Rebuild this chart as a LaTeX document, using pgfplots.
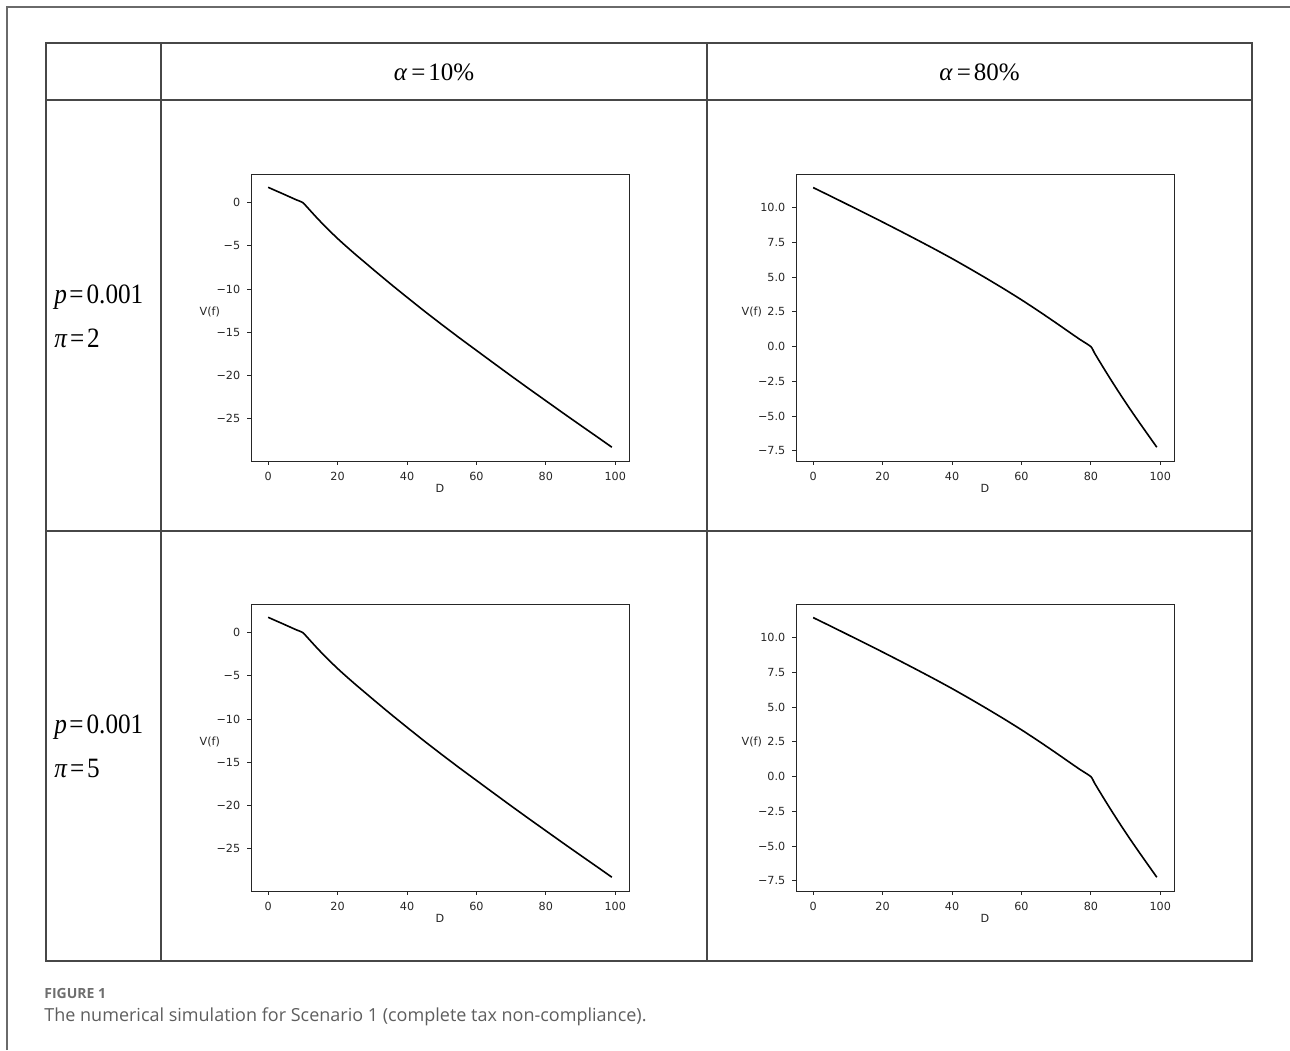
\documentclass[border=0pt]{standalone}
\usepackage{fontspec}
\usepackage{pgfplots}
\pgfplotsset{compat=1.18}
\newfontfamily\dejavu{DejaVu Sans}
\newfontfamily\tnr{Liberation Serif}
\newfontfamily\tnrc{Liberation Serif}[FakeStretch=0.9]
\newfontfamily\osans{Open Sans}
\definecolor{tline}{HTML}{474747}
\definecolor{frameg}{HTML}{6A6A6A}
\definecolor{capgray}{HTML}{6E6E6E}
\definecolor{captxt}{HTML}{5E5E5E}

\pgfplotstableread{
D V
0 1.78
2 1.42
4 1.07
6 0.71
8 0.35
10 0.0
12 -0.86
14 -1.74
16 -2.58
18 -3.38
20 -4.15
22 -4.88
25 -5.94
28 -6.96
31 -7.98
35 -9.32
40 -10.95
45 -12.55
50 -14.10
55 -15.62
60 -17.10
65 -18.58
70 -20.05
75 -21.50
80 -22.93
85 -24.36
90 -25.77
95 -27.17
99 -28.30
}\lowalpha

\pgfplotstableread{
D V
0 11.45
5 10.84
10 10.22
15 9.60
20 8.97
25 8.33
30 7.68
35 7.02
40 6.34
45 5.63
50 4.90
55 4.15
60 3.37
65 2.55
70 1.70
75 0.83
77 0.49
80 0.0
81 -0.44
82 -0.86
84 -1.68
86 -2.48
88 -3.26
90 -4.02
92 -4.76
94 -5.48
96 -6.19
99 -7.25
}\highalpha

\pgfplotsset{
  panel/.style={
    scale only axis, width=189pt, height=143.5pt, anchor=south west,
    xmin=-4.95, xmax=103.95,
    axis line style={line width=0.42pt, color=black!85},
    tick style={line width=0.42pt, color=black!85},
    tick align=outside, major tick length=1.85pt,
    xtick pos=bottom, ytick pos=left,
    xtick={0,20,40,60,80,100},
    xticklabels={0,20,40,60,80,100},
    tick label style={font=\dejavu\fontsize{5.6}{6.5}\selectfont, text=black!85},
    label style={font=\dejavu\fontsize{5.6}{6.5}\selectfont, text=black!85},
    /pgf/number format/assume math mode=true,
    xlabel={D}, ylabel={V(f)},
    xlabel style={at={(rel axis cs:0.5,0)}, anchor=center, yshift=-13.5pt},
    ylabel style={rotate=-90, anchor=east, at={(rel axis cs:0,0.52)}},
  },
  lowp/.style={panel, ymin=-29.9, ymax=3.32,
    ytick={-25,-20,-15,-10,-5,0},
    yticklabels={−25,−20,−15,−10,−5,0},
    ylabel style={xshift=-12pt}},
  highp/.style={panel, ymin=-8.24, ymax=12.43,
    ytick={-7.5,-5,-2.5,0,2.5,5,7.5,10},
    yticklabels={−7.5,−5.0,−2.5,0.0,2.5,5.0,7.5,10.0},
    ylabel style={xshift=-13.5pt}},
}

\begin{document}
\begin{tikzpicture}
\begin{scope}[x=0.5pt,y=-0.5pt]
\useasboundingbox (0,0) rectangle (1290,1050);
% outer frame
\draw[frameg, line width=0.6pt] (7,1050) -- (7,7) -- (1290,7);
% table
\draw[tline, line width=0.65pt] (46,43) rectangle (1252,961);
\draw[tline, line width=0.65pt] (161,43) -- (161,961);
\draw[tline, line width=0.65pt] (707,43) -- (707,961);
\draw[tline, line width=0.65pt] (46,100) -- (1252,100);
\draw[tline, line width=0.65pt] (46,531) -- (1252,531);
% headers
\node[font=\tnr\fontsize{12.5}{14}\selectfont, anchor=center] at (434,72) {\textit{α}\hspace{2pt}=\hspace{1.5pt}10\%};
\node[font=\tnr\fontsize{12.5}{14}\selectfont, anchor=center] at (979.5,72) {\textit{α}\hspace{2pt}=\hspace{1.5pt}80\%};
% row labels
\node[font=\tnrc\fontsize{14}{16}\selectfont, anchor=base west, inner sep=0pt] at (54,303) {\textit{p}\hspace{1.2pt}=\hspace{1.5pt}0.001};
\node[font=\tnrc\fontsize{14}{16}\selectfont, anchor=base west, inner sep=0pt] at (54,347) {\textit{π}\hspace{1.2pt}=\hspace{1.5pt}2};
\node[font=\tnrc\fontsize{14}{16}\selectfont, anchor=base west, inner sep=0pt] at (54,733) {\textit{p}\hspace{1.2pt}=\hspace{1.5pt}0.001};
\node[font=\tnrc\fontsize{14}{16}\selectfont, anchor=base west, inner sep=0pt] at (54,777) {\textit{π}\hspace{1.2pt}=\hspace{1.5pt}5};
% caption
\node[font=\osans\bfseries\fontsize{7}{8}\selectfont, text=capgray, anchor=base west, inner sep=0pt] at (44,998) {FIGURE 1};
\node[font=\osans\fontsize{9}{11}\selectfont, text=captxt, anchor=base west, inner sep=0pt] at (44,1021) {The numerical simulation for Scenario 1 (complete tax non-compliance).};
\end{scope}
% panels
\begin{axis}[lowp, at={(125.5pt,-230.5pt)}]
\addplot[black, line width=0.8pt, smooth, tension=0.3] table[x=D, y=V] {\lowalpha};
\end{axis}
\begin{axis}[highp, at={(398pt,-230.5pt)}]
\addplot[black, line width=0.8pt, smooth, tension=0.3] table[x=D, y=V] {\highalpha};
\end{axis}
\begin{axis}[lowp, at={(125.5pt,-445.5pt)}]
\addplot[black, line width=0.8pt, smooth, tension=0.3] table[x=D, y=V] {\lowalpha};
\end{axis}
\begin{axis}[highp, at={(398pt,-445.5pt)}]
\addplot[black, line width=0.8pt, smooth, tension=0.3] table[x=D, y=V] {\highalpha};
\end{axis}
\end{tikzpicture}
\end{document}
